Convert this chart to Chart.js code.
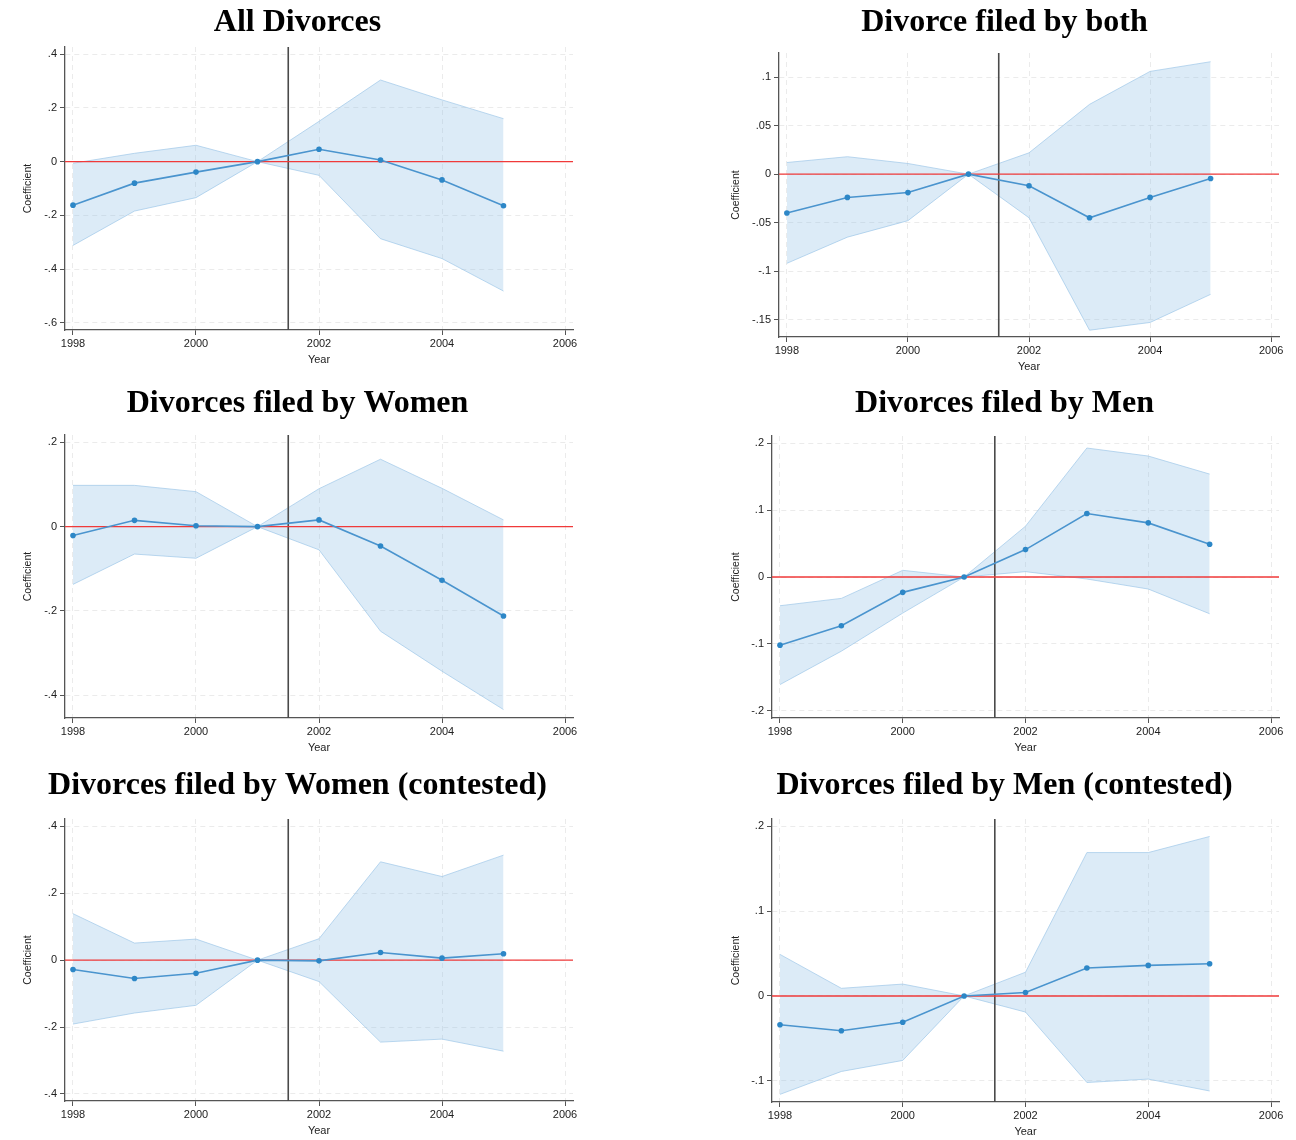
<!DOCTYPE html>
<html>
<head>
<meta charset="utf-8">
<script src="https://cdn.jsdelivr.net/npm/chart.js@4.4.1/dist/chart.umd.min.js"></script>
<style>
body{margin:0;background:#fff;width:1296px;height:1140px;position:relative;overflow:hidden}
canvas{position:absolute}
</style>
</head>
<body>
<canvas id="c1"></canvas>
<canvas id="c2"></canvas>
<canvas id="c3"></canvas>
<canvas id="c4"></canvas>
<canvas id="c5"></canvas>
<canvas id="c6"></canvas>
<script>
// event-study coefficients, 2001 is the reference year
var YEARS = [1998,1999,2000,2001,2002,2003,2004,2005]
var X_TICKS = [1998,2000,2002,2004,2006]
var CUTOFF = 2001.5

var allCoef = [-0.162,-0.080,-0.039,0,0.046,0.006,-0.068,-0.164]
var allHi   = [-0.006,0.031,0.061,0,0.150,0.304,0.230,0.160]
var allLo   = [-0.312,-0.184,-0.134,0,-0.051,-0.287,-0.361,-0.482]
var allTicks = [-0.6,-0.4,-0.2,0,0.2,0.4]

var bothCoef = [-0.040,-0.024,-0.019,0,-0.012,-0.045,-0.024,-0.0045]
var bothHi   = [0.012,0.018,0.011,0,0.022,0.072,0.106,0.116]
var bothLo   = [-0.092,-0.065,-0.048,0,-0.045,-0.161,-0.153,-0.124]
var bothTicks = [-0.15,-0.1,-0.05,0,0.05,0.1]

var womenCoef = [-0.021,0.015,0.002,0,0.016,-0.046,-0.127,-0.212]
var womenHi   = [0.098,0.098,0.083,0,0.090,0.160,0.091,0.016]
var womenLo   = [-0.137,-0.065,-0.075,0,-0.055,-0.248,-0.343,-0.434]
var womenTicks = [-0.4,-0.2,0,0.2]

var menCoef = [-0.102,-0.073,-0.023,0,0.041,0.095,0.081,0.049]
var menHi   = [-0.043,-0.032,0.010,0,0.076,0.193,0.181,0.154]
var menLo   = [-0.161,-0.111,-0.054,0,0.008,-0.003,-0.018,-0.055]
var menTicks = [-0.2,-0.1,0,0.1,0.2]

var womenConCoef = [-0.028,-0.055,-0.039,0,-0.002,0.023,0.006,0.019]
var womenConHi   = [0.139,0.051,0.063,0,0.064,0.294,0.250,0.314]
var womenConLo   = [-0.191,-0.158,-0.135,0,-0.064,-0.245,-0.236,-0.272]
var womenConTicks = [-0.4,-0.2,0,0.2,0.4]

var menConCoef = [-0.034,-0.041,-0.031,0,0.004,0.033,0.036,0.038]
var menConHi   = [0.049,0.009,0.014,0,0.028,0.169,0.169,0.188]
var menConLo   = [-0.116,-0.089,-0.076,0,-0.019,-0.102,-0.098,-0.112]
var menConTicks = [-0.1,0,0.1,0.2]

var X_MIN = 1997.87
var X_MAX = 2006.13

function pts(vals){
    var out = []
    for(var i=0;i<YEARS.length;i++){
        out.push({x:YEARS[i], y:vals[i]})
    }
    return out
}

function fmt(v){
    if(v==0) return "0"
    return String(v).replace("0.",".")
}

function drawPanel(id, title, coef, hi, lo, yTicks, yMin, yMax, box){
    var cv = document.getElementById(id)
    cv.width = box.w
    cv.height = box.h
    cv.style.left = box.left+"px"
    cv.style.top = box.top+"px"

    var sansFont = {family:"'Liberation Sans', Arial, sans-serif", size:11}

    new Chart(cv.getContext("2d"), {
        type: 'line',
        data: {
            datasets: [
                {data: pts(coef), borderColor:'#4a94ce', borderWidth:1.6,
                 pointRadius:2.8, pointBackgroundColor:'#2d87c7', pointBorderWidth:0, fill:false},
                {data: [{x:X_MIN,y:0},{x:X_MAX,y:0}], borderColor:'#f03a3a', borderWidth:1.4,
                 pointRadius:0, fill:false},
                {data: [{x:CUTOFF,y:yMin},{x:CUTOFF,y:yMax}], borderColor:'#4a4a4a', borderWidth:1.6,
                 pointRadius:0, fill:false},
                {data: pts(hi), borderColor:'rgba(160,200,232,0.7)', borderWidth:1,
                 pointRadius:0, fill:'+1', backgroundColor:'rgba(150,195,230,0.33)'},
                {data: pts(lo), borderColor:'rgba(160,200,232,0.7)', borderWidth:1,
                 pointRadius:0, fill:false}
            ]
        },
        options: {
            responsive:false,
            animation:false,
            devicePixelRatio:1,
            events:[],
            layout:{padding:{left:22, right:box.padR, top:0, bottom:0}},
            plugins:{
                legend:{display:false},
                tooltip:{enabled:false},
                title:{
                    display:true,
                    text:title,
                    color:'#000',
                    font:{family:"'Liberation Serif', 'Times New Roman', serif", size:32, weight:'bold', lineHeight:'40px'},
                    padding:{top:3, bottom:box.titlePad}
                }
            },
            scales:{
                x:{
                    type:'linear',
                    min:X_MIN, max:X_MAX,
                    afterBuildTicks: function(s){ s.ticks = X_TICKS.map(function(v){return {value:v}}) },
                    afterFit: function(s){ s.height = 37 },
                    ticks:{color:'#222', font:sansFont, padding:2, maxRotation:0,
                           callback:function(v){return String(v)}},
                    grid:{color:'#ebebeb', lineWidth:1, tickLength:5, tickColor:'#555', tickWidth:1},
                    border:{color:'#555', width:1.3, dash:[5,4]},
                    title:{display:true, text:'Year', color:'#222', font:sansFont, padding:0}
                },
                y:{
                    type:'linear',
                    min:yMin, max:yMax,
                    afterBuildTicks: function(s){ s.ticks = yTicks.map(function(v){return {value:v}}) },
                    afterFit: function(s){ s.width = box.yw },
                    ticks:{color:'#222', font:sansFont, padding:3,
                           callback:function(v){return fmt(v)}},
                    grid:{color:'#ebebeb', lineWidth:1, tickLength:5, tickColor:'#555', tickWidth:1},
                    border:{color:'#555', width:1.3, dash:[5,4]},
                    title:{display:true, text:'Coefficient', color:'#222', font:{family:"'Liberation Sans', Arial, sans-serif", size:10.5}, padding:0}
                }
            }
        }
    })
}

drawPanel("c1", "All Divorces", allCoef, allHi, allLo, allTicks, -0.627, 0.427,
    {left:0, top:0, w:592, h:367, titlePad:4, yw:43, padR:19})
drawPanel("c2", "Divorce filed by both", bothCoef, bothHi, bothLo, bothTicks, -0.168, 0.125,
    {left:708, top:0, w:590, h:374, titlePad:10, yw:49, padR:19})
drawPanel("c3", "Divorces filed by Women", womenCoef, womenHi, womenLo, womenTicks, -0.454, 0.2175,
    {left:0, top:381, w:592, h:374, titlePad:11, yw:43, padR:19})
drawPanel("c4", "Divorces filed by Men", menCoef, menHi, menLo, menTicks, -0.211, 0.211,
    {left:708, top:381, w:590, h:374, titlePad:12, yw:42, padR:19})
drawPanel("c5", "Divorces filed by Women (contested)", womenConCoef, womenConHi, womenConLo, womenConTicks, -0.421, 0.422,
    {left:0, top:763, w:592, h:375, titlePad:13, yw:43, padR:19})
drawPanel("c6", "Divorces filed by Men (contested)", menConCoef, menConHi, menConLo, menConTicks, -0.125, 0.2086,
    {left:708, top:763, w:590, h:376, titlePad:13, yw:42, padR:19})
</script>
</body>
</html>
